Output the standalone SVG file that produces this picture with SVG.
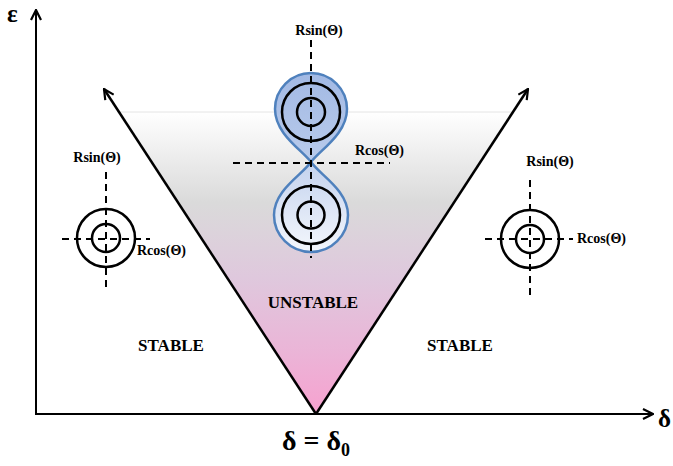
<svg xmlns="http://www.w3.org/2000/svg" width="673" height="466" viewBox="0 0 673 466">
<defs>
<linearGradient id="vfill" gradientUnits="userSpaceOnUse" x1="0" y1="112" x2="0" y2="414">
<stop offset="0" stop-color="#ffffff"/>
<stop offset="0.3" stop-color="#dadada"/>
<stop offset="0.55" stop-color="#dfc8dd"/>
<stop offset="0.8" stop-color="#ebb4d7"/>
<stop offset="1" stop-color="#f7a1cf"/>
</linearGradient>
<linearGradient id="topLobe" gradientUnits="userSpaceOnUse" x1="0" y1="72" x2="0" y2="162">
<stop offset="0" stop-color="#a2b9e4"/>
<stop offset="1" stop-color="#b9cbeb"/>
</linearGradient>
<linearGradient id="botLobe" gradientUnits="userSpaceOnUse" x1="0" y1="162" x2="0" y2="252">
<stop offset="0" stop-color="#c3d2ee"/>
<stop offset="1" stop-color="#f4f7fc"/>
</linearGradient>
<marker id="arr" viewBox="0 0 12 12" refX="11" refY="6" markerWidth="12" markerHeight="12" markerUnits="userSpaceOnUse" orient="auto">
<path d="M1,1 L11,6 L1,11" fill="none" stroke="#000" stroke-width="2.2"/>
</marker>
</defs>
<style>
.ax{stroke:#000;stroke-width:2;fill:none}
.vl{stroke:#000;stroke-width:2.5;fill:none}
.dash{stroke:#000;stroke-width:2;stroke-dasharray:7 5;fill:none}
.ring{stroke:#000;stroke-width:2.5;fill:none}
.lobe{stroke:#4f81bd;stroke-width:2.5}
.lab{font-family:"Liberation Serif","Times New Roman",serif;font-weight:bold;font-size:14px;fill:#000}
.reg{font-family:"Liberation Serif","Times New Roman",serif;font-weight:bold;font-size:17px;fill:#000}
.big{font-family:"Liberation Serif","Times New Roman",serif;font-weight:bold;fill:#000}
</style>
<rect width="673" height="466" fill="#ffffff"/>
<g id="unstable-region">
<polygon points="119,112 513,112 316,414" fill="url(#vfill)"/>
<line x1="119" y1="112" x2="513" y2="112" stroke="#e4e4e4" stroke-width="1"/>
</g>
<g id="axes">
<line class="ax" x1="36" y1="414" x2="36" y2="10" marker-end="url(#arr)"/>
<line class="ax" x1="35" y1="414" x2="653" y2="414" marker-end="url(#arr)"/>
<text class="big" x="7" y="22" font-size="25">ε</text>
<text class="big" x="658" y="427" font-size="25">δ</text>
<text class="big" x="316" y="450" font-size="28" text-anchor="middle">δ = δ<tspan font-size="18" dy="6">0</tspan></text>
</g>
<g id="connectors">
<line class="vl" x1="316" y1="414" x2="104" y2="89" marker-end="url(#arr)"/>
<line class="vl" x1="316" y1="414" x2="528" y2="89" marker-end="url(#arr)"/>
</g>
<g id="center-figure">
<path class="lobe" fill="url(#topLobe)" d="M311,162 C302,150 275,134 275,109 A36,36 0 1 1 347,109 C347,134 320,150 311,162 Z"/>
<path class="lobe" fill="url(#botLobe)" d="M311,162 C320,175 348,190 348,215 A37,37 0 1 1 274,215 C274,190 302,175 311,162 Z"/>
<circle class="ring" cx="311" cy="112" r="29"/>
<circle class="ring" cx="311" cy="112" r="14"/>
<circle class="ring" cx="311" cy="215" r="29"/>
<circle class="ring" cx="311" cy="215" r="13.5"/>
<line class="dash" x1="311" y1="40" x2="311" y2="258"/>
<line class="dash" x1="233" y1="163" x2="390" y2="163"/>
<text class="lab" x="319" y="35" text-anchor="middle">Rsin(Θ)</text>
<text class="lab" x="355" y="155">Rcos(Θ)</text>
</g>
<g id="left-figure">
<circle class="ring" cx="106" cy="238" r="29"/>
<circle class="ring" cx="106" cy="238" r="14"/>
<line class="dash" x1="106" y1="172" x2="106" y2="290"/>
<line class="dash" x1="62" y1="239" x2="150" y2="239"/>
<text class="lab" x="97" y="162" text-anchor="middle">Rsin(Θ)</text>
<text class="lab" x="137" y="255">Rcos(Θ)</text>
</g>
<g id="right-figure">
<circle class="ring" cx="530" cy="239" r="29"/>
<circle class="ring" cx="530" cy="239" r="14"/>
<line class="dash" x1="530" y1="180" x2="530" y2="298"/>
<line class="dash" x1="485" y1="239" x2="573" y2="239"/>
<text class="lab" x="550" y="166" text-anchor="middle">Rsin(Θ)</text>
<text class="lab" x="577" y="243">Rcos(Θ)</text>
</g>
<g id="labels">
<text class="reg" x="313" y="308" text-anchor="middle">UNSTABLE</text>
<text class="reg" x="171" y="351" text-anchor="middle">STABLE</text>
<text class="reg" x="460" y="351" text-anchor="middle">STABLE</text>
</g>
</svg>
